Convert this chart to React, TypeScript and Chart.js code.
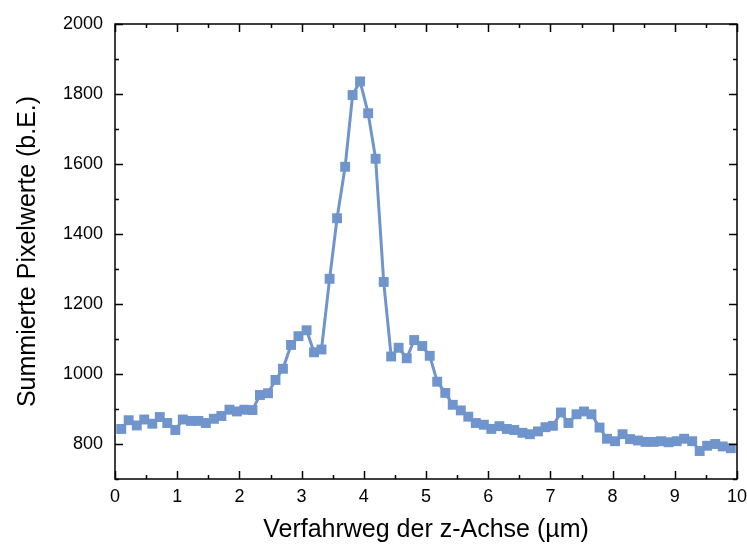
import React, { useEffect, useRef } from "react";
import { Chart, registerables } from "chart.js";

Chart.register(...registerables);

const xValues: number[] = [
  0.10, 0.22, 0.35, 0.47, 0.60, 0.72, 0.84, 0.97, 1.09, 1.22,
  1.34, 1.46, 1.59, 1.71, 1.84, 1.96, 2.08, 2.21, 2.33, 2.46,
  2.58, 2.70, 2.83, 2.95, 3.08, 3.20, 3.32, 3.45, 3.57, 3.70,
  3.82, 3.94, 4.07, 4.19, 4.32, 4.44, 4.56, 4.69, 4.81, 4.94,
  5.06, 5.18, 5.31, 5.43, 5.56, 5.68, 5.80, 5.93, 6.05, 6.18,
  6.30, 6.42, 6.55, 6.67, 6.80, 6.92, 7.04, 7.17, 7.29, 7.42,
  7.54, 7.66, 7.79, 7.91, 8.04, 8.16, 8.28, 8.41, 8.53, 8.66,
  8.78, 8.90, 9.03, 9.15, 9.28, 9.40, 9.52, 9.65, 9.77, 9.90,
];

const yValues: number[] = [
  843, 868, 853, 870, 858, 877, 860, 840, 870, 866,
  866, 860, 872, 880, 898, 893, 898, 897, 940, 945,
  983, 1015, 1083, 1108, 1125, 1062, 1070, 1272, 1445, 1592,
  1797, 1836, 1745, 1615, 1263, 1050, 1075, 1045, 1097, 1080,
  1052, 978, 946, 912, 896, 878, 860, 855, 843, 851,
  843, 840, 832, 828, 836, 848, 852, 890, 860, 885,
  893, 885, 847, 815, 808, 828, 814, 810, 806, 806,
  808, 805, 808, 815, 808, 780, 795, 800, 793, 788,
];

const xTicks: number[] = [0, 1, 2, 3, 4, 5, 6, 7, 8, 9, 10];
const xMinorTicks: number[] = [0.5, 1.5, 2.5, 3.5, 4.5, 5.5, 6.5, 7.5, 8.5, 9.5];
const yTicks: number[] = [800, 1000, 1200, 1400, 1600, 1800, 2000];
const yMinorTicks: number[] = [700, 900, 1100, 1300, 1500, 1700, 1900];

const xTitle = "Verfahrweg der z-Achse (µm)";
const yTitle = "Summierte Pixelwerte (b.E.)";
const color = "#7094cc";
const FONT = "'Liberation Sans', Arial, sans-serif";

const framePlugin = {
  id: "frame",
  afterDatasetsDraw(chart: any) {
    const { ctx, chartArea, scales } = chart;
    const { left, right, top, bottom } = chartArea;
    const xs = scales.x;
    const ys = scales.y;
    ctx.save();
    ctx.strokeStyle = "#000";
    ctx.lineWidth = 1.5;
    ctx.strokeRect(left, top, right - left, bottom - top);
    ctx.beginPath();
    const drawX = (v: number, len: number) => {
      const px = Math.round(xs.getPixelForValue(v)) + 0.5;
      ctx.moveTo(px, bottom);
      ctx.lineTo(px, bottom - len);
      ctx.moveTo(px, top);
      ctx.lineTo(px, top + len);
    };
    const drawY = (v: number, len: number) => {
      const py = Math.round(ys.getPixelForValue(v)) + 0.5;
      ctx.moveTo(left, py);
      ctx.lineTo(left + len, py);
      ctx.moveTo(right, py);
      ctx.lineTo(right - len, py);
    };
    xTicks.forEach((v) => drawX(v, 8));
    xMinorTicks.forEach((v) => drawX(v, 4));
    yTicks.forEach((v) => drawY(v, 8));
    yMinorTicks.forEach((v) => drawY(v, 4));
    ctx.stroke();
    ctx.restore();
  },
};

export default function App() {
  const ref = useRef<HTMLCanvasElement | null>(null);

  useEffect(() => {
    document.body.style.margin = "0";
    if (!ref.current) return;
    const chart = new Chart(ref.current, {
      type: "line",
      data: {
        datasets: [
          {
            data: xValues.map((x, i) => ({ x, y: yValues[i] })),
            borderColor: color,
            backgroundColor: color,
            borderWidth: 3,
            pointStyle: "rect",
            pointRadius: 7,
            pointBorderWidth: 0,
            pointBackgroundColor: color,
            tension: 0,
          },
        ],
      },
      options: {
        animation: false,
        responsive: false,
        maintainAspectRatio: false,
        layout: { padding: { left: 0, right: 10, top: 24, bottom: 0 } },
        plugins: {
          legend: { display: false },
          tooltip: { enabled: false },
        },
        scales: {
          x: {
            type: "linear",
            min: 0,
            max: 10,
            grid: { display: false, drawTicks: false },
            border: { display: false },
            afterBuildTicks: (s: any) => {
              s.ticks = xTicks.map((v) => ({ value: v }));
            },
            afterFit: (s: any) => {
              s.height = 68;
              s.paddingLeft = 0;
              s.paddingRight = 0;
            },
            ticks: {
              color: "#000",
              padding: 7,
              maxRotation: 0,
              font: { family: FONT, size: 18 },
              callback: (v: any) => String(v),
            },
            title: {
              display: true,
              text: xTitle,
              color: "#000",
              font: { family: FONT, size: 25 },
              padding: { top: 0, bottom: 2 },
            },
          },
          y: {
            type: "linear",
            min: 700,
            max: 2000,
            grid: { display: false, drawTicks: false },
            border: { display: false },
            afterBuildTicks: (s: any) => {
              s.ticks = yTicks.map((v) => ({ value: v }));
            },
            afterFit: (s: any) => {
              s.width = 115;
              s.paddingTop = 0;
              s.paddingBottom = 0;
            },
            ticks: {
              color: "#000",
              padding: 12,
              font: { family: FONT, size: 18 },
              callback: (v: any) => String(v),
            },
            title: {
              display: true,
              text: yTitle,
              color: "#000",
              font: { family: FONT, size: 25 },
              padding: { top: 13, bottom: 0 },
            },
          },
        },
      },
      plugins: [framePlugin],
    });
    return () => chart.destroy();
  }, []);

  return (
    <div style={{ width: 747, height: 547 }}>
      <canvas ref={ref} width={747} height={547} style={{ display: "block" }} />
    </div>
  );
}
